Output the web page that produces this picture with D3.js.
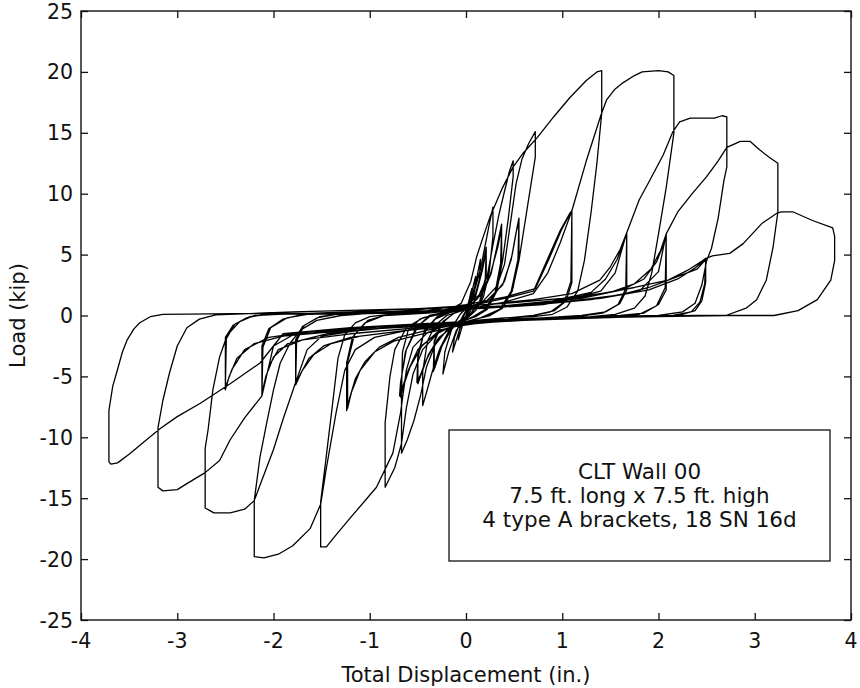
<!DOCTYPE html>
<html>
<head>
<meta charset="utf-8">
<script src="https://cdn.jsdelivr.net/npm/d3@7"></script>
<style>
  html, body { margin: 0; padding: 0; background: #fff; }
  svg { display: block; }
  text { font-family: "DejaVu Sans", Verdana, sans-serif; fill: #111; }
</style>
</head>
<body>
<svg id="chart" width="860" height="688"></svg>
<script>
// ---------- data ----------
const xTicks = [-4, -3, -2, -1, 0, 1, 2, 3, 4];
const yTicks = [-25, -20, -15, -10, -5, 0, 5, 10, 15, 20, 25];
const xTitle = "Total Displacement (in.)";
const yTitle = "Load (kip)";
const legendLines = ["CLT Wall 00", "7.5 ft. long x 7.5 ft. high", "4 type A brackets, 18 SN 16d"];

// [displacement (in.), load (kip)] points, in test order
const cyc0 = [[0,0],[0.03,1.2],[0.06,2.2],[0.05,1.4],[0.01,0.2],[-0.04,-0.9],[-0.08,-2.0],[-0.07,-1.2],[-0.02,0.0],
  [0.05,1.6],[0.1,3.2],[0.09,2.0],[0.03,0.4],[-0.06,-1.0],[-0.14,-3.0],[-0.12,-1.8],[-0.05,-0.3],
  [0.04,1.0],[0.1,2.6],[0.15,4.6],[0.14,3.0],[0.08,0.9],[0.0,-0.3],[-0.1,-1.2],[-0.18,-3.0],[-0.24,-4.8],[-0.22,-3.0],[-0.14,-0.9],[-0.06,0.1]];

const cyc1 = [[-0.06,0.1],[0.0,0.6],[0.08,1.8],[0.15,3.8],[0.2,5.8],[0.25,7.8],[0.28,8.9],[0.28,6.5],[0.24,3.5],[0.18,1.5],[0.1,0.4],[0.0,-0.3],
  [-0.1,-0.7],[-0.2,-1.6],[-0.28,-2.9],[-0.35,-4.6],[-0.41,-6.3],[-0.45,-7.4],[-0.45,-4.6],[-0.4,-2.1],[-0.32,-0.8],[-0.2,0.0]];
const cyc1t = [[-0.2,0.0],[-0.08,0.3],[0.02,0.9],[0.1,1.8],[0.16,3.6],[0.21,5.6],[0.21,3.3],[0.16,1.3],[0.06,0.2],[-0.05,-0.4],
  [-0.15,-1.1],[-0.25,-2.5],[-0.32,-4.2],[-0.34,-4.6],[-0.33,-2.1],[-0.26,-0.7],[-0.14,0.1],
  [0.0,0.7],[0.1,1.6],[0.17,3.7],[0.21,5.3],[0.2,3.0],[0.14,1.1],[0.04,0.1],[-0.08,-0.5],[-0.18,-1.3],[-0.27,-2.7],[-0.33,-4.3],[-0.33,-2.2],[-0.24,-0.5],[-0.12,0.2]];

const cyc2 = [[-0.12,0.2],[0.0,0.5],[0.12,1.4],[0.22,3.2],[0.28,5.8],[0.34,8.2],[0.4,10.2],[0.45,11.8],[0.49,12.7],[0.49,11.4],[0.44,8.0],[0.38,4.5],[0.32,2.0],[0.22,0.5],[0.1,-0.1],
  [-0.05,-0.5],[-0.2,-1.2],[-0.32,-2.4],[-0.41,-4.2],[-0.47,-6.5],[-0.54,-8.6],[-0.61,-10.2],[-0.67,-11.3],[-0.67,-6.5],[-0.66,-3.0],[-0.6,-1.2],[-0.48,-0.3],[-0.32,0.1]];
const cyc2t = [[-0.32,0.1],[-0.12,0.4],[0.05,0.9],[0.17,1.8],[0.26,3.4],[0.32,5.6],[0.37,7.5],[0.37,4.6],[0.31,2.0],[0.2,0.5],[0.05,-0.2],
  [-0.12,-0.8],[-0.28,-1.8],[-0.39,-3.2],[-0.46,-4.7],[-0.5,-5.6],[-0.5,-3.5],[-0.44,-1.5],[-0.32,-0.3],[-0.18,0.2],
  [0.0,0.8],[0.14,1.7],[0.25,3.3],[0.33,5.6],[0.37,7.2],[0.36,4.3],[0.3,1.8],[0.18,0.3],[0.02,-0.3],[-0.15,-0.9],[-0.3,-2.0],[-0.41,-3.6],[-0.48,-5.0],[-0.51,-5.5],[-0.5,-3.2],[-0.43,-1.2],[-0.3,-0.1],[-0.2,0.2]];

const cyc3 = [[-0.2,0.2],[0.0,0.5],[0.18,1.2],[0.32,2.4],[0.4,4.2],[0.46,7.5],[0.52,10.8],[0.58,12.8],[0.65,14.1],[0.72,15.1],[0.72,13.0],[0.63,8.5],[0.55,4.5],[0.48,2.0],[0.38,0.6],[0.25,0.0],
  [0.1,-0.3],[-0.1,-0.7],[-0.3,-1.5],[-0.45,-2.8],[-0.55,-4.8],[-0.62,-7.6],[-0.67,-10.5],[-0.74,-12.5],[-0.84,-14.1],[-0.84,-8.8],[-0.79,-5.0],[-0.74,-2.8],[-0.62,-1.0],[-0.45,-0.2],[-0.3,0.1]];
const cyc3t = [[-0.3,0.1],[0.0,0.5],[0.25,1.3],[0.4,2.8],[0.48,5.0],[0.53,7.2],[0.55,8.0],[0.55,5.0],[0.49,2.3],[0.38,0.6],[0.2,-0.1],
  [0.0,-0.5],[-0.25,-1.2],[-0.45,-2.4],[-0.58,-4.2],[-0.65,-5.8],[-0.68,-6.7],[-0.68,-5.6],[-0.63,-3.0],[-0.52,-1.0],[-0.38,-0.1],
  [-0.1,0.4],[0.2,1.1],[0.38,2.5],[0.47,4.6],[0.52,6.8],[0.55,7.7],[0.54,4.6],[0.47,2.0],[0.35,0.5],[0.15,-0.2],
  [-0.05,-0.6],[-0.3,-1.4],[-0.5,-2.8],[-0.6,-4.5],[-0.66,-5.9],[-0.69,-6.6],[-0.68,-5.5],[-0.62,-2.8],[-0.5,-0.9],[-0.38,0.0]];

const cyc4 = [[-0.38,0.0],[-0.2,0.3],[-0.05,1.0],[0.05,2.8],[0.11,4.8],[0.18,6.5],[0.25,8.1],[0.38,10.5],[0.49,12.2],[0.59,13.3],[0.74,14.6],[0.91,16.3],[1.08,17.9],[1.25,19.3],[1.36,20.0],[1.41,20.1],[1.41,16.6],[1.36,12.5],[1.3,8.5],[1.23,4.5],[1.16,2.0],[1.05,0.7],[0.9,0.1],[0.7,-0.1],
  [0.4,-0.2],[0.1,-0.4],[-0.2,-0.8],[-0.4,-1.4],[-0.55,-2.6],[-0.62,-4.5],[-0.68,-8.0],[-0.76,-11.3],[-0.93,-14.1],[-1.2,-16.6],[-1.38,-18.3],[-1.45,-19.0],[-1.51,-19.0],[-1.51,-15.3],[-1.46,-12.1],[-1.39,-7.5],[-1.33,-3.5],[-1.26,-1.6],[-1.15,-0.6],[-1.0,-0.1],[-0.8,0.1]];
const cyc4t = [[-0.8,0.1],[-0.4,0.3],[0.0,0.7],[0.4,1.4],[0.7,2.0],[0.84,4.5],[0.98,7.0],[1.08,8.4],[1.1,8.6],[1.1,2.7],[1.04,1.2],[0.92,0.4],[0.7,0.0],
  [0.3,-0.3],[0.0,-0.6],[-0.4,-1.2],[-0.7,-1.8],[-0.9,-2.6],[-1.05,-3.8],[-1.15,-5.2],[-1.21,-6.8],[-1.24,-7.8],[-1.24,-3.9],[-1.18,-1.8],[-1.05,-0.6],[-0.85,0.0],
  [-0.4,0.4],[0.0,0.9],[0.4,1.5],[0.72,2.2],[0.86,4.6],[0.99,7.0],[1.07,8.2],[1.1,8.4],[1.09,2.8],[1.02,1.1],[0.88,0.3],[0.65,-0.1],
  [0.25,-0.5],[-0.1,-0.9],[-0.45,-1.5],[-0.75,-2.1],[-0.95,-3.0],[-1.1,-4.5],[-1.19,-6.3],[-1.23,-7.6],[-1.23,-3.8],[-1.16,-1.6],[-1.02,-0.4],[-0.85,0.0]];

const cyc5 = [[-0.85,0.0],[-0.4,0.2],[0.0,0.5],[0.4,1.1],[0.7,1.8],[0.85,3.5],[0.98,6.0],[1.1,8.6],[1.25,12.7],[1.4,16.4],[1.46,17.7],[1.55,18.6],[1.63,19.1],[1.75,19.7],[1.83,20.0],[2.0,20.1],[2.1,20.0],[2.16,19.7],[2.16,15.0],[2.08,10.5],[2.0,6.7],[1.93,3.5],[1.86,1.6],[1.75,0.6],[1.55,0.1],[1.3,-0.1],
  [0.8,-0.2],[0.3,-0.4],[-0.2,-0.7],[-0.6,-1.2],[-0.95,-1.8],[-1.15,-2.8],[-1.26,-4.5],[-1.35,-8.0],[-1.45,-12.5],[-1.51,-15.5],[-1.62,-17.5],[-1.8,-18.9],[-1.95,-19.6],[-2.1,-19.9],[-2.2,-19.8],[-2.2,-15.2],[-2.14,-11.6],[-2.07,-8.8],[-2.0,-6.1],[-1.93,-3.9],[-1.83,-2.3],[-1.72,-1.2],[-1.55,-0.4],[-1.3,0.0]];
const cyc5t = [[-1.3,0.0],[-0.8,0.3],[-0.3,0.6],[0.2,0.9],[0.7,1.3],[1.1,1.8],[1.39,2.9],[1.5,4.0],[1.6,5.4],[1.67,6.8],[1.67,2.1],[1.6,1.0],[1.45,0.3],[1.2,0.0],
  [0.6,-0.3],[0.0,-0.7],[-0.6,-1.2],[-1.1,-1.7],[-1.4,-2.3],[-1.58,-3.2],[-1.7,-4.5],[-1.77,-5.7],[-1.77,-2.0],[-1.7,-0.9],[-1.55,-0.2],[-1.35,0.1],
  [-0.8,0.2],[-0.2,0.4],[0.4,0.8],[0.9,1.2],[1.3,1.9],[1.45,3.0],[1.57,4.6],[1.65,6.3],[1.67,6.6],[1.66,2.2],[1.58,0.9],[1.42,0.2],[1.15,-0.1],
  [0.5,-0.4],[-0.1,-0.8],[-0.7,-1.3],[-1.2,-1.8],[-1.48,-2.5],[-1.63,-3.5],[-1.72,-4.8],[-1.77,-5.6],[-1.76,-2.1],[-1.68,-0.8],[-1.52,-0.1],[-1.35,0.1]];

const cyc6 = [[-1.35,0.1],[-0.8,0.2],[0.0,0.5],[0.6,0.9],[1.1,1.4],[1.4,2.0],[1.55,3.5],[1.67,6.8],[1.8,9.5],[1.91,11.1],[2.05,13.2],[2.15,15.1],[2.22,15.9],[2.33,16.2],[2.58,16.2],[2.66,16.4],[2.71,16.3],[2.71,12.2],[2.68,11.1],[2.62,8.0],[2.55,5.5],[2.5,4.5],[2.45,2.5],[2.38,1.0],[2.25,0.3],[2.0,0.0],
  [1.4,-0.1],[0.8,-0.2],[0.2,-0.4],[-0.5,-0.8],[-1.1,-1.2],[-1.5,-1.7],[-1.65,-2.8],[-1.77,-5.5],[-1.9,-8.5],[-2.0,-11.0],[-2.12,-13.5],[-2.2,-15.2],[-2.3,-15.9],[-2.45,-16.2],[-2.62,-16.2],[-2.71,-15.8],[-2.71,-10.9],[-2.68,-9.4],[-2.63,-6.1],[-2.56,-3.4],[-2.48,-1.6],[-2.35,-0.5],[-2.2,0.0],[-1.95,0.1]];
const cyc6t = [[-1.95,0.1],[-1.2,0.3],[-0.4,0.6],[0.4,1.0],[1.0,1.4],[1.5,1.9],[1.75,2.6],[1.92,3.8],[2.02,5.3],[2.08,6.7],[2.08,2.1],[2.0,0.9],[1.85,0.2],[1.6,0.0],
  [1.0,-0.2],[0.3,-0.5],[-0.5,-1.0],[-1.2,-1.5],[-1.7,-2.0],[-1.95,-2.8],[-2.05,-4.2],[-2.12,-6.6],[-2.12,-2.5],[-2.05,-1.1],[-1.9,-0.3],[-1.7,0.1],
  [-1.0,0.2],[-0.2,0.4],[0.6,0.9],[1.2,1.4],[1.62,2.1],[1.85,3.0],[1.98,4.4],[2.06,6.0],[2.08,6.5],[2.07,2.3],[1.98,0.8],[1.8,0.1],[1.5,-0.1],
  [0.8,-0.3],[0.0,-0.6],[-0.8,-1.0],[-1.45,-1.5],[-1.85,-2.3],[-2.0,-3.4],[-2.08,-5.0],[-2.12,-6.4],[-2.11,-2.6],[-2.03,-1.0],[-1.86,-0.2],[-1.65,0.1]];

const cyc7 = [[-1.65,0.1],[-1.0,0.2],[-0.2,0.4],[0.6,0.8],[1.3,1.3],[1.8,2.0],[2.0,3.6],[2.08,6.7],[2.2,8.5],[2.35,10.0],[2.5,11.4],[2.62,12.7],[2.71,13.8],[2.85,14.3],[2.95,14.3],[3.05,13.6],[3.15,13.0],[3.24,12.5],[3.24,8.5],[3.19,5.6],[3.12,2.9],[3.02,1.3],[2.91,0.6],[2.7,0.0],
  [2.0,-0.1],[1.2,-0.2],[0.4,-0.4],[-0.4,-0.7],[-1.2,-1.1],[-1.8,-1.6],[-2.0,-2.5],[-2.12,-6.6],[-2.3,-8.4],[-2.45,-10.2],[-2.56,-11.9],[-2.71,-12.9],[-2.9,-13.8],[-3.0,-14.3],[-3.15,-14.4],[-3.2,-14.1],[-3.2,-9.2],[-3.15,-7.0],[-3.08,-4.7],[-3.0,-2.5],[-2.9,-1.0],[-2.77,-0.3],[-2.6,0.05]];
const cyc7t = [[-2.6,0.05],[-1.8,0.3],[-0.8,0.5],[0.2,0.7],[1.0,1.1],[1.6,1.7],[1.9,2.3],[2.1,2.9],[2.3,3.7],[2.44,4.4],[2.49,4.7],[2.49,2.7],[2.45,1.2],[2.38,0.4],[2.2,0.0],
  [1.4,-0.2],[0.6,-0.4],[-0.3,-0.8],[-1.2,-1.2],[-1.9,-1.7],[-2.2,-2.3],[-2.38,-3.5],[-2.46,-5.0],[-2.5,-6.1],[-2.5,-1.8],[-2.42,-0.8],[-2.28,-0.2],[-2.1,0.1],
  [-1.4,0.2],[-0.4,0.4],[0.6,0.8],[1.4,1.4],[1.9,2.1],[2.2,3.0],[2.38,3.9],[2.47,4.5],[2.49,4.4],[2.48,2.6],[2.43,1.1],[2.34,0.3],[2.15,0.0],
  [1.2,-0.2],[0.2,-0.5],[-0.8,-0.9],[-1.6,-1.3],[-2.05,-1.8],[-2.3,-2.8],[-2.43,-4.4],[-2.5,-5.9],[-2.49,-1.9],[-2.4,-0.7],[-2.25,-0.1],[-2.05,0.1]];

const cyc8 = [[-2.05,0.1],[-1.2,0.2],[-0.2,0.4],[0.8,0.9],[1.4,1.8],[1.75,2.3],[2.1,2.9],[2.4,3.8],[2.5,4.7],[2.56,4.9],[2.74,5.1],[2.88,5.9],[3.08,7.6],[3.23,8.4],[3.28,8.5],[3.4,8.5],[3.6,7.8],[3.81,7.2],[3.83,6.5],[3.83,4.5],[3.79,2.9],[3.65,1.3],[3.45,0.4],[3.2,0.0],
  [2.4,0.0],[1.5,-0.1],[0.6,-0.3],[-0.3,-0.6],[-1.2,-1.0],[-1.9,-1.5],[-2.14,-3.9],[-2.45,-5.6],[-2.76,-7.2],[-3.0,-8.3],[-3.18,-9.3],[-3.35,-10.4],[-3.5,-11.4],[-3.62,-12.1],[-3.69,-12.2],[-3.71,-12.0],[-3.71,-7.8],[-3.67,-5.8],[-3.63,-4.7],[-3.57,-3.0],[-3.52,-2.0],[-3.45,-1.1],[-3.39,-0.6],[-3.28,-0.1],[-3.15,0.1],[-2.4,0.15],[-1.5,0.2]];

const testSequence = [cyc0, cyc1, cyc1t, cyc2, cyc2t, cyc3, cyc3t, cyc4, cyc4t, cyc5, cyc5t, cyc6, cyc6t, cyc7, cyc7t, cyc8];

// ---------- drawing ----------
const svg = d3.select("#chart");
const plot = { left: 81, right: 851, top: 11, bottom: 620 };
const x = d3.scaleLinear().domain([-4, 4]).range([plot.left, plot.right]);
const y = d3.scaleLinear().domain([-25, 25]).range([plot.bottom, plot.top]);

const allPoints = testSequence.flat();
const line = d3.line().x(d => x(d[0])).y(d => y(d[1]));

svg.append("defs").append("clipPath").attr("id", "clip")
  .append("rect").attr("x", plot.left).attr("y", plot.top)
  .attr("width", plot.right - plot.left).attr("height", plot.bottom - plot.top);

svg.append("path")
  .datum(allPoints)
  .attr("clip-path", "url(#clip)")
  .attr("fill", "none")
  .attr("stroke", "#000")
  .attr("stroke-width", 1.3)
  .attr("stroke-linejoin", "round")
  .attr("d", line);

// axes with inward ticks on all four sides
const tickLen = 7;
function styleAxis(g) {
  g.select(".domain").remove();
  g.selectAll(".tick line").attr("stroke", "#111").attr("stroke-width", 1.3);
  g.selectAll(".tick text").remove();
}
svg.append("g").attr("transform", `translate(0,${plot.bottom})`)
  .call(d3.axisBottom(x).tickValues(xTicks).tickSize(-tickLen)).call(styleAxis);
svg.append("g").attr("transform", `translate(0,${plot.top})`)
  .call(d3.axisTop(x).tickValues(xTicks).tickSize(-tickLen)).call(styleAxis);
svg.append("g").attr("transform", `translate(${plot.left},0)`)
  .call(d3.axisLeft(y).tickValues(yTicks).tickSize(-tickLen)).call(styleAxis);
svg.append("g").attr("transform", `translate(${plot.right},0)`)
  .call(d3.axisRight(y).tickValues(yTicks).tickSize(-tickLen)).call(styleAxis);

// frame
svg.append("rect")
  .attr("x", plot.left).attr("y", plot.top)
  .attr("width", plot.right - plot.left).attr("height", plot.bottom - plot.top)
  .attr("fill", "none").attr("stroke", "#111").attr("stroke-width", 1.4);

// tick labels
svg.append("g").selectAll("text").data(xTicks).join("text")
  .attr("x", d => x(d)).attr("y", 648)
  .attr("text-anchor", "middle").attr("font-size", 20.5)
  .text(d => d);
svg.append("g").selectAll("text").data(yTicks).join("text")
  .attr("x", 73).attr("y", d => y(d) + 7.5)
  .attr("text-anchor", "end").attr("font-size", 20.5)
  .text(d => d);

// axis titles
svg.append("text").attr("x", (plot.left + plot.right) / 2).attr("y", 682)
  .attr("text-anchor", "middle").attr("font-size", 21).text(xTitle);
svg.append("text")
  .attr("transform", `translate(25,${(plot.top + plot.bottom) / 2}) rotate(-90)`)
  .attr("text-anchor", "middle").attr("font-size", 21).text(yTitle);

// annotation box
const box = { x0: 449, y0: 430, x1: 830, y1: 561 };
svg.append("rect").attr("x", box.x0).attr("y", box.y0)
  .attr("width", box.x1 - box.x0).attr("height", box.y1 - box.y0)
  .attr("fill", "#fff").attr("stroke", "#111").attr("stroke-width", 1.3);
svg.append("g").selectAll("text").data(legendLines).join("text")
  .attr("x", (box.x0 + box.x1) / 2)
  .attr("y", (d, i) => 479 + i * 24)
  .attr("text-anchor", "middle").attr("font-size", 21.5)
  .text(d => d);
</script>
</body>
</html>
